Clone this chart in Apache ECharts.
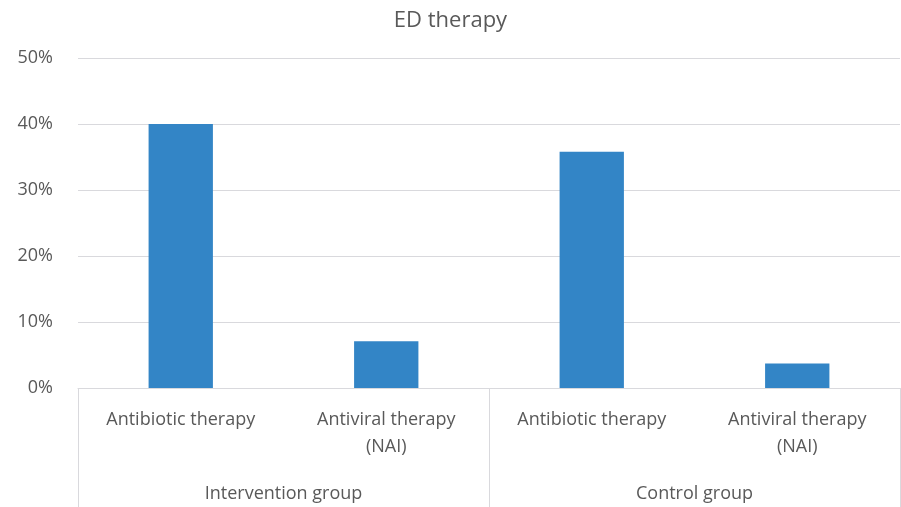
<!DOCTYPE html>
<html>
<head>
<meta charset="utf-8">
<script src="https://cdn.jsdelivr.net/npm/echarts@6/dist/echarts.min.js"></script>
<style>html,body{margin:0;padding:0;background:#fff}#c{width:901px;height:507px}</style>
</head>
<body>
<div id="c"></div>
<script>
var categories = ['Antibiotic therapy', 'Antiviral therapy\n(NAI)', 'Antibiotic therapy', 'Antiviral therapy\n(NAI)'];
var groups = ['Intervention group', 'Control group'];
var values = [40.0, 7.1, 35.8, 3.7];
var yTicks = { min: 0, max: 50, interval: 10 };

var FONT = 'Open Sans';
var TXT = '#595959';
var LINE = '#d9d9dd';

var chart = echarts.init(document.getElementById('c'));
chart.setOption({
  animation: false,
  title: {
    text: 'ED therapy', left: 'center', top: 5,
    textStyle: { fontFamily: FONT, fontSize: 22, fontWeight: 'normal', color: TXT }
  },
  grid: { left: 78, right: 1, top: 58, bottom: 119, containLabel: false },
  xAxis: [
    {
      type: 'category', data: categories, position: 'bottom',
      axisLine: { show: true, lineStyle: { color: LINE, width: 1 } },
      axisTick: { show: false },
      axisLabel: { fontFamily: FONT, fontSize: 18, color: TXT, lineHeight: 27, margin: 18, interval: 0 }
    },
    {
      type: 'category', data: groups, position: 'bottom', gridIndex: 0,
      axisLine: { show: false },
      axisTick: { show: true, length: 119, lineStyle: { color: LINE, width: 1 } },
      axisLabel: { fontFamily: FONT, fontSize: 18, color: TXT, margin: 97, interval: 0 }
    }
  ],
  yAxis: {
    type: 'value', min: yTicks.min, max: yTicks.max, interval: yTicks.interval,
    axisLine: { show: false }, axisTick: { show: false },
    axisLabel: { formatter: '{value}%', fontFamily: FONT, fontSize: 18, color: TXT, margin: 25 },
    splitLine: { lineStyle: { color: LINE, width: 1 } }
  },
  series: [{
    type: 'bar', data: values, xAxisIndex: 0, barWidth: '31.3%',
    itemStyle: { color: '#3385C6' }
  }]
});
</script>
</body>
</html>
